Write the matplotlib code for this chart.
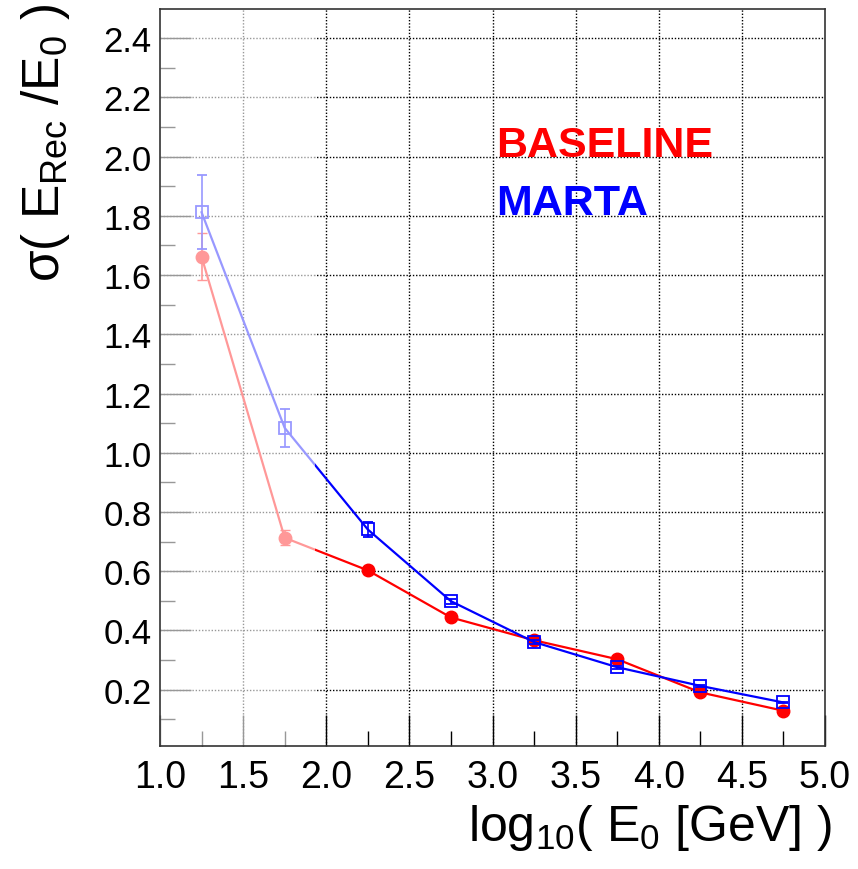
import matplotlib
matplotlib.use("Agg")
import matplotlib.pyplot as plt
import numpy as np

plt.rcParams["font.family"] = ["Liberation Sans", "DejaVu Sans"]
plt.rcParams["mathtext.fontset"] = "custom"
plt.rcParams["mathtext.rm"] = "Liberation Sans"
plt.rcParams["mathtext.it"] = "Liberation Sans"
plt.rcParams["mathtext.default"] = "regular"

# log10(E0) bin centres
log_e0 = [1.25, 1.75, 2.25, 2.75, 3.25, 3.75, 4.25, 4.75]

# resolution values and errors
baseline = [1.662, 0.713, 0.603, 0.444, 0.367, 0.303, 0.191, 0.129]
baseline_err = [0.080, 0.025, 0.012, 0.006, 0.005, 0.004, 0.004, 0.003]
marta = [1.812, 1.084, 0.741, 0.499, 0.361, 0.276, 0.213, 0.157]
marta_err = [0.125, 0.063, 0.025, 0.008, 0.006, 0.005, 0.004, 0.003]

x_ticks = [1.0, 1.5, 2.0, 2.5, 3.0, 3.5, 4.0, 4.5, 5.0]
y_ticks = [0.2, 0.4, 0.6, 0.8, 1.0, 1.2, 1.4, 1.6, 1.8, 2.0, 2.2, 2.4]

fig = plt.figure(figsize=(8.58, 8.70), dpi=100)
ax = fig.add_axes([160 / 858, 1 - 747 / 870, 665 / 858, 737.5 / 870])

ax.errorbar(log_e0, baseline, yerr=baseline_err, color="red", marker="o",
            markersize=9, linewidth=1.6, capsize=3.5, elinewidth=1.2,
            zorder=2)
ax.errorbar(log_e0, marta, yerr=marta_err, color="blue", marker="s",
            markersize=8.5, markerfacecolor="none", markeredgewidth=1.3,
            linewidth=1.6, capsize=3.5, elinewidth=1.2, zorder=2.1)

# dotted grid drawn below the fading box
for xv in x_ticks[1:-1]:
    ax.axvline(xv, color="black", linestyle=(0, (1, 1.3)), linewidth=1.0, zorder=1)
for yv in y_ticks:
    ax.axhline(yv, color="black", linestyle=(0, (1, 1.3)), linewidth=1.0, zorder=1)

# faded low-energy region
ax.axvspan(1.0, 1.93, color="white", alpha=0.6, linewidth=0, zorder=2.3)

ax.set_xlim(1.0, 5.0)
ax.set_ylim(0.01, 2.5)
ax.set_xticks(x_ticks)
ax.set_xticklabels([f"{v:.1f}" for v in x_ticks])
ax.set_yticks(y_ticks)
ax.set_yticklabels([f"{v:.1f}" for v in y_ticks])
ax.set_xticks(np.arange(1.25, 5.0, 0.5), minor=True)
ax.set_yticks(np.arange(0.1, 2.5, 0.2), minor=True)

ax.tick_params(axis="both", which="major", direction="in",
               length=22, width=1.0, color="black")
ax.tick_params(axis="both", which="minor", direction="in", length=11,
               width=1.0)
ax.tick_params(axis="x", labelsize=27, pad=9)
ax.tick_params(axis="y", labelsize=25, pad=6)
for s in ax.spines.values():
    s.set_linewidth(1.2)
    s.set_color("#333333")

ax.text(3.02, 2.04, "BASELINE", color="red", fontsize=31, fontweight="bold",
        ha="left", va="center", zorder=3)
ax.text(3.02, 1.845, "MARTA", color="blue", fontsize=31, fontweight="bold",
        ha="left", va="center", zorder=3)

fig.text(832 / 858, 1 - 828 / 870, r"log$_{10}$( E$_{0}$ [GeV] )",
         fontsize=36, ha="right", va="center")
fig.text(45 / 858, 1 - 4 / 870, r"$\sigma$( E$_{\mathrm{Rec}}$ /E$_{0}$ )",
         fontsize=37, rotation=90, ha="center", va="top")

fig.savefig("out.png", dpi=100)
